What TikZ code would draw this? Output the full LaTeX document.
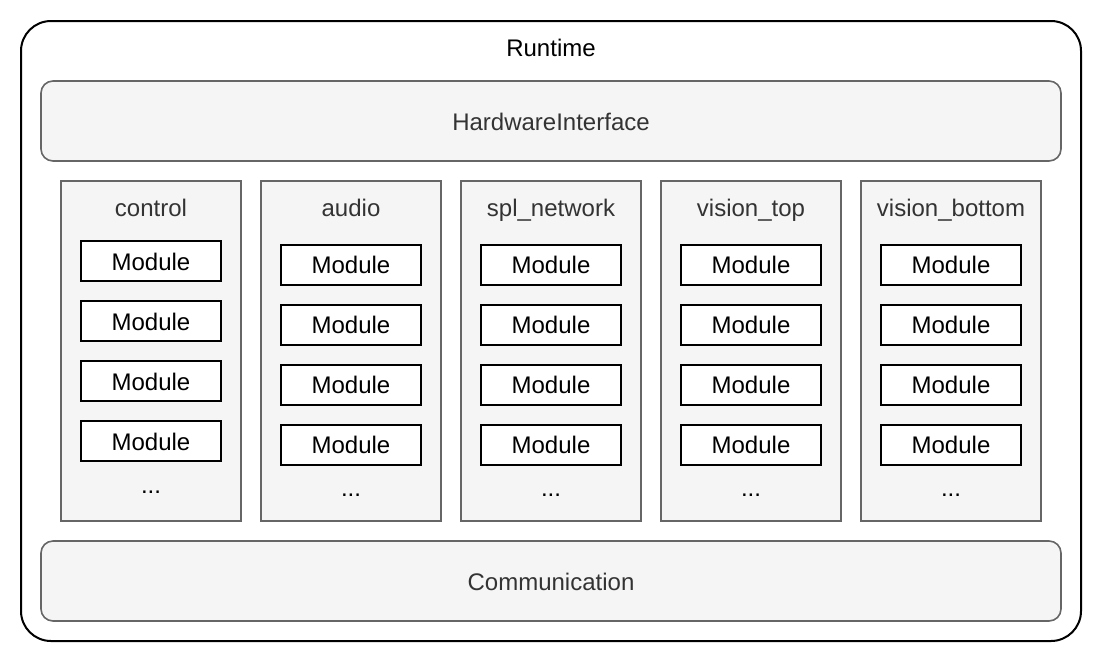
\documentclass[tikz,border=0pt]{standalone}
\usepackage{fontspec}
\setmainfont{Liberation Sans}
\definecolor{boxfill}{HTML}{F5F5F5}
\definecolor{boxline}{HTML}{666666}
\definecolor{labeltext}{HTML}{333333}
\begin{document}
\begin{tikzpicture}[x=1pt,y=-1pt,
  every node/.style={font=\fontsize{24}{28}\selectfont, inner sep=0pt},
  outerbox/.style={draw=black, line width=2pt, rounded corners=30pt},
  layerbox/.style={draw=boxline, fill=boxfill, line width=1.6pt, rounded corners=12pt},
  colbox/.style={draw=boxline, fill=boxfill, line width=1.6pt},
  modbox/.style={draw=black, fill=white, line width=2pt, minimum width=140pt, minimum height=40pt},
  modtext/.style={anchor=base},
  grey/.style={text=labeltext}]
\useasboundingbox (0,0) rectangle (1102,662);
\draw[outerbox] (21,21) rectangle (1081,641);
\node[anchor=base] (runtime) at (551,56.5) {Runtime};
\draw[layerbox] (41,81) rectangle (1061,161);
\node[grey, anchor=base] (hw) at (551,130) {HardwareInterface};
\draw[layerbox] (41,541) rectangle (1061,621);
\node[grey, anchor=base] (comm) at (551,590) {Communication};
\foreach \name [count=\i from 0] in {control,audio,spl\_network,vision\_top,vision\_bottom} {
  \pgfmathsetmacro{\xl}{61+200*\i}
  \pgfmathsetmacro{\xc}{151+200*\i}
  \pgfmathsetmacro{\off}{ifthenelse(\i==0,0,3.5)}
  \draw[colbox] (\xl,181) rectangle ++(180,340);
  \node[grey, anchor=base] (col\i) at (\xc,216.5) {\name};
  \foreach \j in {0,1,2,3} {
    \node[modbox] (m\i\j) at (\xc,261+60*\j+\off) {};
    \node[modtext] (t\i\j) at (\xc,270+60*\j+\off) {Module};
  }
  \node[anchor=base] (dots\i) at (\xc,493+\off) {...};
}
\end{tikzpicture}
\end{document}
